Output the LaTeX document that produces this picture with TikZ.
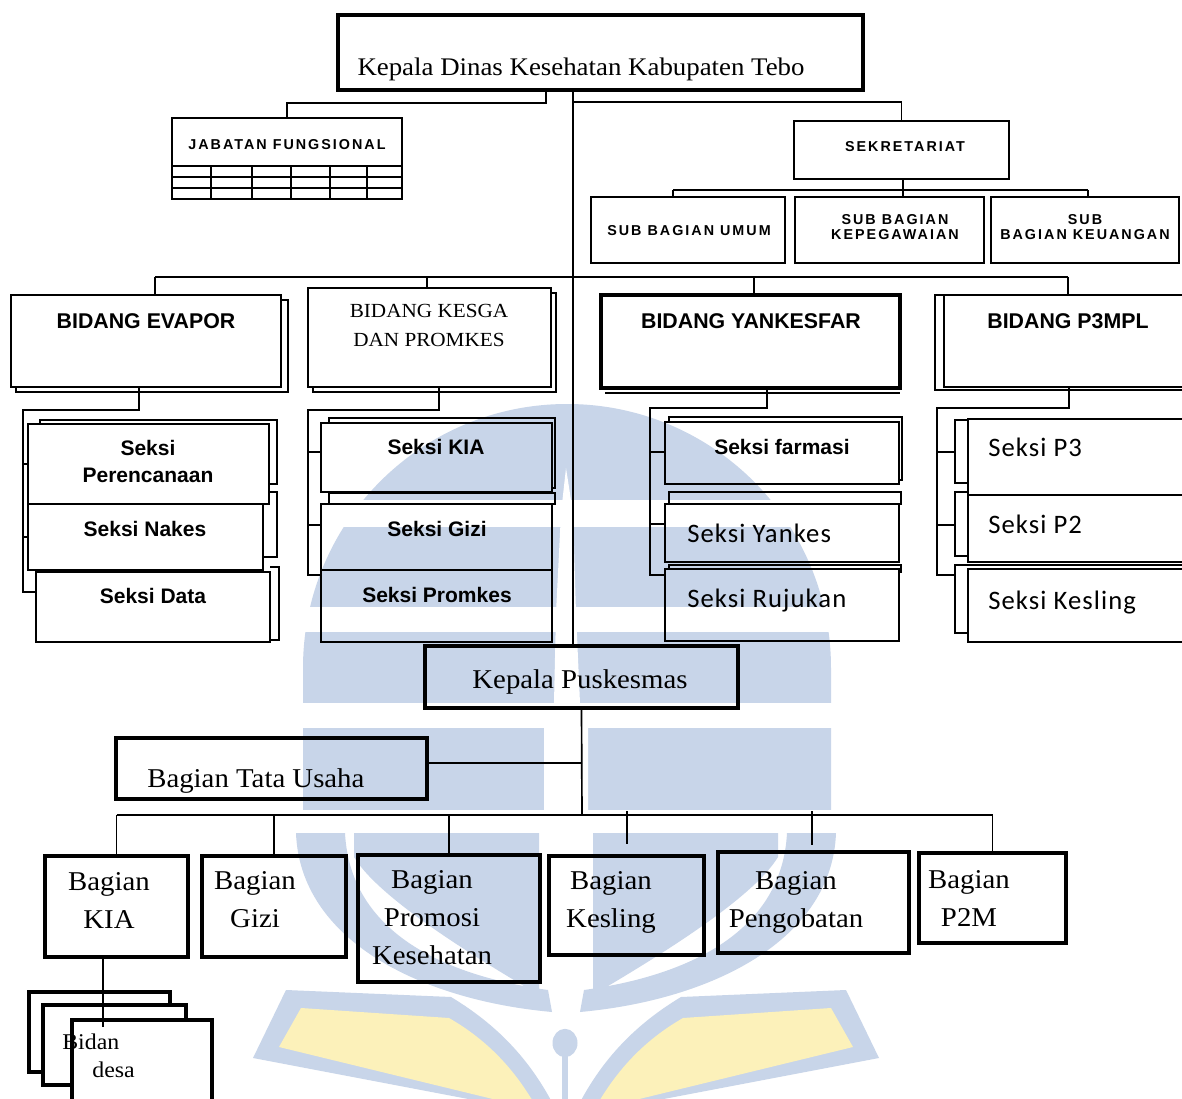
\documentclass[tikz,border=0pt]{standalone}
\usepackage{fontspec}
\setmainfont{Liberation Serif}
\newfontfamily\wideserif[FakeStretch=1.06]{Liberation Serif}
\newfontfamily\arialfont{Liberation Sans}
\newfontfamily\spacedfont[LetterSpace=14]{Liberation Sans}
\newfontfamily\calibrifont[LetterSpace=4]{Carlito}
\usepackage{tikz}
\definecolor{wmblue}{RGB}{200,213,233}
\definecolor{wmyellow}{RGB}{252,241,186}

\begin{document}
\begin{tikzpicture}[x=0.6pt, y=-0.6pt,
    rect/.style n args={4}{at={({(#1+#3)/2},{(#2+#4)/2})},
      minimum width={(#3-#1)*0.6pt}, minimum height={(#4-#2)*0.6pt}},
    box/.style={draw, line width=1.1pt},
    heavy/.style={draw, line width=2.6pt},
    link/.style={line width=1pt},
    sheet/.style={line width=1.1pt},
    head/.style={font=\wideserif\fontsize{15.2}{18}\selectfont},
    bag/.style={font=\wideserif\fontsize{16.3}{22.6}\selectfont, align=center},
    kesgatxt/.style={font=\wideserif\fontsize{12}{17.4}\selectfont, align=center},
    bidang/.style={font=\arialfont\bfseries\fontsize{12.8}{15}\selectfont},
    seksi/.style={font=\arialfont\bfseries\fontsize{12.6}{16.8}\selectfont, align=center},
    unit/.style={font=\spacedfont\bfseries\fontsize{8.6}{9}\selectfont, align=center},
    cal/.style={font=\calibrifont\fontsize{16}{19}\selectfont},
    desa/.style={font=\wideserif\fontsize{13.5}{16.8}\selectfont, align=left}]
    \tikzstyle{every node}+=[inner sep=0pt]
    \useasboundingbox (0,0) rectangle (1182,1099);
    \clip (0,0) rectangle (1182,1099);
    \fill [white] (0,0) rectangle (1182,1099);

    % watermark
    \begin{scope}
      \clip (303,1000) -- (303,668) arc [start angle=180, end angle=0, radius=158.4pt] -- (831,1000) -- cycle;
      \fill [wmblue] (290,400) rectangle (850,500);
      \fill [wmblue] (290,527) rectangle (850,607);
      \fill [wmblue] (290,632) rectangle (850,703);
      \fill [wmblue] (290,728) rectangle (850,810);
    \end{scope}
    \fill [white] (566,468) -- (573,513) -- (576,613) -- (580,703) -- (580,728) -- (588,728) -- (588,812)
      -- (544,812) -- (544,728) -- (553,728) -- (554,703) -- (556,613) -- (561,513) -- cycle;
    \foreach \side in {1,-1} {
      \begin{scope}[shift={(566,0)}, xscale=\side]
        \fill [wmblue] (-270,833) -- (-221,833) .. controls (-216,930) and (-126,975) .. (-18,990)
          -- (-14,1012) .. controls (-146,1000) and (-266,940) .. (-270,833) -- cycle;
        \fill [wmblue] (-212,833) -- (-27,833) -- (-27,995) .. controls (-86,960) and (-186,900) .. (-212,857) -- cycle;
        \fill [wmblue] (-313,1058) -- (-280,990) -- (-115,997) .. controls (-60,1030) and (-30,1070) .. (-10,1110)
          -- (-40,1110) -- cycle;
        \fill [wmyellow] (-287,1047) -- (-265,1008) -- (-117,1018) .. controls (-70,1045) and (-45,1080) .. (-28,1110) -- cycle;
      \end{scope}
    }
    \fill [wmblue] (565,1043) ellipse [x radius=7.5pt, y radius=8.5pt];
    \fill [wmblue] (562,1043) rectangle (568,1099);

    % dinas
    \node [heavy, rect={338}{15}{863}{90}] (kadin) {};
    \node [head, anchor=base] (kadin-t) at (581,76) {Kepala Dinas Kesehatan Kabupaten Tebo};
    \node [box, rect={172}{118}{402}{199}] (jabfung) {};
    \node [unit, anchor=base] (jabfung-t) at (287,150) {JABATAN FUNGSIONAL};
    \draw [sheet] (172,166) -- (402,166);
    \foreach \r in {177,188} \draw [link] (172,\r) -- (402,\r);
    \foreach \c in {211,252,291,330,367} \draw [link] (\c,166) -- (\c,199);
    \node [box, rect={794}{121}{1009}{179}] (sekre) {};
    \node [unit, anchor=base] (sekre-t) at (905,152) {SEKRETARIAT};
    \node [box, rect={591}{197}{785}{263}] (subumum) {};
    \node [unit, anchor=base] (subumum-t) at (689,236) {SUB BAGIAN UMUM};
    \node [box, rect={795}{197}{984}{263}] (subpeg) {};
    \node [unit, anchor=base] (subpeg-t) at (895,240) {SUB BAGIAN\\KEPEGAWAIAN};
    \node [box, rect={991}{197}{1179}{263}] (subkeu) {};
    \node [unit, anchor=base] (subkeu-t) at (1085,240) {SUB\\BAGIAN KEUANGAN};

    % bidang
    \node [box, rect={11}{295}{281}{387}] (evapor) {};
    \node [bidang, anchor=base] (evapor-t) at (146,329) {BIDANG EVAPOR};
    \draw [sheet] (281,300) -| (288,392) -| (16,387);
    \node [box, rect={308}{288}{551}{387}] (kesga) {};
    \node [kesgatxt, anchor=base] (kesga-t) at (429,347) {BIDANG KESGA\\DAN PROMKES};
    \draw [sheet] (551,293) -| (556,392) -| (313,387);
    \node [draw, line width=2pt, rect={601}{295}{900}{388}] (yankesfar) {};
    \node [bidang, anchor=base] (yankesfar-t) at (751,329) {BIDANG YANKESFAR};
    \draw [sheet] (605,393) -- (900,393);
    \node [box, rect={944}{295}{1200}{387}] (p3mpl) {};
    \node [bidang, anchor=base] (p3mpl-t) at (1068,329) {BIDANG P3MPL};
    \draw [sheet] (944,295) -| (935,390) -- (1200,390);

    % seksi evapor
    \draw [sheet] (40,424) |- (277,420) |- (269,484);
    \draw [sheet] (269,492) -| (277,557) -- (263,557);
    \draw [sheet] (270,567) -| (279,640) -- (270,640);
    \node [box, rect={28}{424}{269}{504}] (perenc) {};
    \node [seksi, anchor=base] (perenc-t) at (148,483) {Seksi\\Perencanaan};
    \node [box, rect={28}{504}{263}{570}] (nakes) {};
    \node [seksi, anchor=base] (nakes-t) at (145,536) {Seksi Nakes};
    \node [box, rect={36}{572}{270}{642}] (sdata) {};
    \node [seksi, anchor=base] (sdata-t) at (153,603) {Seksi Data};

    % seksi kesga
    \draw [sheet] (329,423) |- (555,418) |- (552,488);
    \draw [sheet] (329,504) |- (555,493) |- (552,504);
    \node [box, rect={321}{423}{552}{492}] (skia) {};
    \node [seksi, anchor=base] (skia-t) at (436,455) {Seksi KIA};
    \node [box, rect={321}{504}{552}{570}] (sgizi) {};
    \node [seksi, anchor=base] (sgizi-t) at (437,536) {Seksi Gizi};
    \node [box, rect={321}{570}{552}{642}] (spromkes) {};
    \node [seksi, anchor=base] (spromkes-t) at (437,602) {Seksi Promkes};

    % seksi yankesfar
    \draw [sheet] (669,422) |- (902,417) |- (899,480);
    \draw [sheet] (669,504) |- (901,492) |- (899,504);
    \draw [sheet] (669,569) |- (901,565) |- (899,572);
    \node [box, rect={665}{422}{899}{484}] (farmasi) {};
    \node [seksi, anchor=base] (farmasi-t) at (782,454) {Seksi farmasi};
    \node [box, rect={665}{504}{899}{562}] (yankes) {};
    \node [cal, anchor=base west] (yankes-t) at (687,542) {Seksi Yankes};
    \node [box, rect={665}{569}{899}{641}] (rujukan) {};
    \node [cal, anchor=base west] (rujukan-t) at (687,608) {Seksi Rujukan};

    % seksi p3mpl
    \draw [sheet] (968,420) -| (955,483) -- (968,483);
    \draw [sheet] (968,492) -| (955,556) -- (968,556);
    \draw [sheet] (1200,565) -| (955,633) -- (968,633);
    \node [box, rect={968}{419}{1200}{495}] (sp3) {};
    \node [cal, anchor=base west] (sp3-t) at (988,457) {Seksi P3};
    \node [box, rect={968}{495}{1200}{562}] (sp2) {};
    \node [cal, anchor=base west] (sp2-t) at (988,534) {Seksi P2};
    \node [box, rect={968}{569}{1200}{642}] (kesling) {};
    \node [cal, anchor=base west] (kesling-t) at (988,609) {Seksi Kesling};

    % puskesmas
    \node [heavy, rect={425}{646}{738}{708}] (kapus) {};
    \node [bag, anchor=base] (kapus-t) at (580,688) {Kepala Puskesmas};
    \node [heavy, rect={116}{738}{427}{799}] (tatausaha) {};
    \node [bag, anchor=base west] (tatausaha-t) at (147,787) {Bagian Tata Usaha};
    \node [heavy, rect={45}{856}{188}{957}] (bkia) {};
    \node [bag, anchor=base] (bkia-t) at (109,928) {Bagian\\KIA};
    \node [heavy, rect={202}{856}{346}{957}] (bgizi) {};
    \node [bag, anchor=base] (bgizi-t) at (255,927) {Bagian\\Gizi};
    \node [heavy, rect={358}{855}{540}{982}] (bpromosi) {};
    \node [bag, anchor=base] (bpromosi-t) at (432,964) {Bagian\\Promosi\\Kesehatan};
    \node [heavy, rect={549}{856}{704}{955}] (bkesling) {};
    \node [bag, anchor=base] (bkesling-t) at (611,927) {Bagian\\Kesling};
    \node [heavy, rect={718}{852}{909}{953}] (bpengobatan) {};
    \node [bag, anchor=base] (bpengobatan-t) at (796,927) {Bagian\\Pengobatan};
    \node [heavy, rect={919}{853}{1066}{943}] (bp2m) {};
    \node [bag, anchor=base] (bp2m-t) at (969,926) {Bagian\\P2M};

    % bidan desa
    \node [heavy, fill=white, line width=2.2pt, rect={29}{992}{170}{1072}] (bidan1) {};
    \node [heavy, fill=white, line width=2.2pt, rect={43}{1005}{186}{1085}] (bidan2) {};
    \node [heavy, fill=white, line width=2.2pt, rect={72}{1020}{212}{1115}] (bidan3) {};
    \node [desa, anchor=base west] (bidan-t) at (62,1077) {Bidan\\\hspace*{18pt}desa};

    % connectors top
    \coordinate (kj) at (546,103);
    \coordinate (ks) at (573,102);
    \draw [link] (kj |- kadin.south) -- (kj) -| (jabfung.north);
    \draw [link] (ks |- kadin.south) -- (ks |- kapus.north);
    \draw [link] (ks) -| (sekre.north);
    \coordinate (sj) at (903,190);
    \coordinate (su) at (673,190);
    \coordinate (sk) at (1088,190);
    \draw [link] (sj |- sekre.south) -- (sj |- subpeg.north);
    \draw [link] (su) -- (sk);
    \draw [link] (su) -- (su |- subumum.north);
    \draw [link] (sk) -- (sk |- subkeu.north);
    \coordinate (b1) at (155,277);
    \coordinate (b2) at (427,277);
    \coordinate (b3) at (754,277);
    \coordinate (b4) at (1068,277);
    \draw [link] (b1) -- (b4);
    \foreach \n/\b in {b1/evapor, b2/kesga, b3/yankesfar, b4/p3mpl}
      \draw [link] (\n) -- (\n |- \b.north);

    % connectors seksi
    \coordinate (e1) at (139,410);
    \coordinate (e2) at (23,410);
    \coordinate (e3) at (23,592);
    \draw [link] (e1 |- evapor.south) -- (e1) -- (e2) -- (e3) -- (e3 -| sdata.west);
    \draw [link] (perenc.west -| e2) -- (perenc.west);
    \draw [link] (nakes.west -| e2) -- (nakes.west);
    \coordinate (g1) at (439,410);
    \coordinate (g2) at (308,410);
    \coordinate (g3) at (308,575);
    \coordinate (g4) at (308,452);
    \coordinate (g5) at (308,525);
    \draw [link] (g1 |- kesga.south) -- (g1) -- (g2) -- (g3) -- (g3 -| spromkes.west);
    \draw [link] (g4) -- (g4 -| skia.west);
    \draw [link] (g5) -- (g5 -| sgizi.west);
    \coordinate (y1) at (767,408);
    \coordinate (y2) at (650,408);
    \coordinate (y3) at (650,575);
    \coordinate (y4) at (650,452);
    \coordinate (y5) at (650,524);
    \draw [link] (y1 |- yankesfar.south) -- (y1) -- (y2) -- (y3) -- (y3 -| rujukan.west);
    \draw [link] (y4) -- (y4 -| farmasi.west);
    \draw [link] (y5) -- (y5 -| yankes.west);
    \coordinate (q1) at (1069,408);
    \coordinate (q2) at (937,408);
    \coordinate (q3) at (937,575);
    \coordinate (q4) at (937,452);
    \coordinate (q5) at (937,525);
    \coordinate (qe) at (955,0);
    \draw [link] (q1 |- p3mpl.south) -- (q1) -- (q2) -- (q3) -- (q3 -| qe);
    \draw [link] (q4) -- (q4 -| qe);
    \draw [link] (q5) -- (q5 -| qe);

    % connectors puskesmas
    \coordinate (pk) at (582,815);
    \coordinate (pt) at (582,763);
    \draw [link] (kapus.south) -- (pk);
    \draw [link] (pt) -- (pt -| tatausaha.east);
    \draw [link] (pk -| bkia.north) -- (pk -| bp2m.north);
    \foreach \b in {bkia, bgizi, bpromosi, bp2m}
      \draw [link] (pk -| \b.north) -- (\b.north);
    \coordinate (tk1) at (627,811);
    \coordinate (tk2) at (812,811);
    \draw [link] (tk1) -- ++(0,33);
    \draw [link] (tk2) -- ++(0,34);
    \coordinate (bd) at (103,1027);
    \draw [link] (bd |- bkia.south) -- (bd);
\end{tikzpicture}
\end{document}
